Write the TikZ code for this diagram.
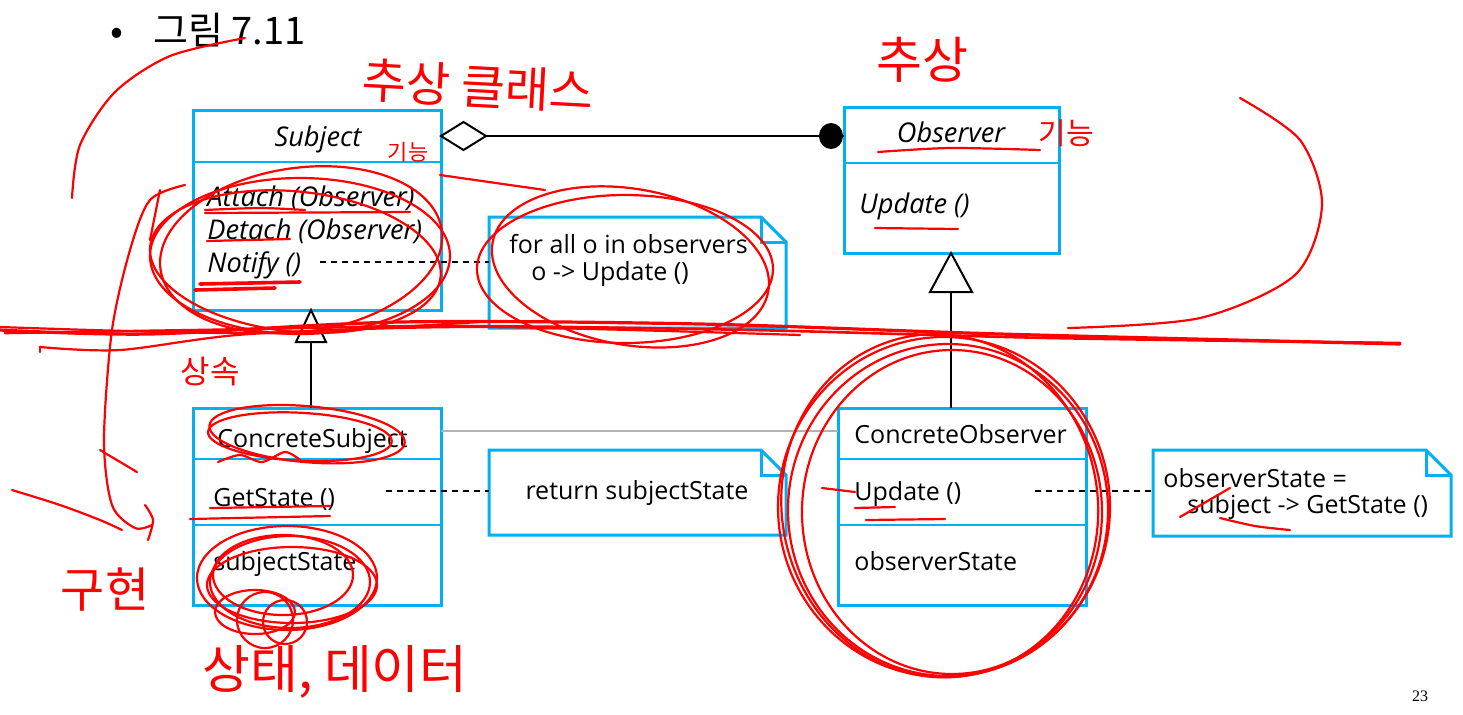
\documentclass[tikz,border=0pt]{standalone}
\usepackage{fontspec}
\setmainfont{Open Sans}
\newfontfamily\kr{Noto Sans CJK KR}
\newfontfamily\pagenum{Liberation Serif}
\definecolor{umlblue}{HTML}{00B0F0}
\definecolor{pen}{HTML}{FF0000}
\tikzset{
  clsbox/.style={draw=umlblue, line width=1.5pt, anchor=north west, inner sep=0pt, outer sep=0pt},
  notebox/.style={anchor=north west, inner sep=0pt, outer sep=0pt},
  divider/.style={draw=umlblue, line width=0.8pt},
  txt/.style={font=\fontsize{12.5}{15}\selectfont, inner sep=0pt, anchor=base west},
  itxt/.style={txt, font=\fontsize{13.6}{15}\selectfont\itshape},
  umlline/.style={draw=black, line width=1pt},
  dashline/.style={draw=black, line width=1pt, dash pattern=on 3pt off 2.5pt},
  redpen/.style={draw=pen, line width=1.1pt, line cap=round, line join=round},
  redtxt/.style={text=pen, inner sep=0pt, font=\kr},
}
\begin{document}
\begin{tikzpicture}[x=0.5pt,y=-0.5pt]
\useasboundingbox (0,0) rectangle (1463,714);
\fill[white] (0,0) rectangle (1463,714);

% header
\node[inner sep=0pt, anchor=base west, font=\kr\fontsize{19}{21}\selectfont] (bul) at (110,44) {•};
\node[inner sep=0pt, anchor=base west, font=\kr\fontsize{19}{21}\selectfont] (title) at (153,44) {그림 7.11};
\node[inner sep=0pt, anchor=base, font=\pagenum\fontsize{8}{9}\selectfont] (pg) at (1420,701) {23};

% class boxes
\node[clsbox, minimum width=124pt, minimum height=100pt] (subj) at (193,110) {};
\node[clsbox, minimum width=107.5pt, minimum height=73pt] (obs) at (844,107) {};
\node[clsbox, minimum width=124pt, minimum height=98.5pt] (cs) at (193,408) {};
\node[clsbox, minimum width=124pt, minimum height=98.5pt] (co) at (838,408) {};

\draw[divider] (193,162) -- (441,162);
\draw[divider] (844,163) -- (1059,163);
\draw[divider] (193,459) -- (441,459);
\draw[divider] (193,525) -- (441,525);
\draw[divider] (838,459) -- (1086,459);
\draw[divider] (838,525) -- (1086,525);

% class texts
\node[itxt, anchor=base] (subjT) at (318,146) {Subject};
\node[itxt] (attach) at (207,206) {Attach (Observer)};
\node[itxt] (detach) at (207,239) {Detach (Observer)};
\node[itxt] (notify) at (207,272) {Notify ()};
\node[itxt, anchor=base] (obsT) at (951,142) {Observer};
\node[itxt] (upd) at (859,213) {Update ()};
\node[txt] (csT) at (217,447) {ConcreteSubject};
\node[txt] (gets) at (213,506) {GetState ()};
\node[txt] (sstate) at (213,570) {subjectState};
\node[txt] (coT) at (854,443) {ConcreteObserver};
\node[txt] (cupd) at (854,500) {Update ()};
\node[txt] (ostate) at (854,570) {observerState};

% notes
\node[notebox, minimum width=148.5pt, minimum height=55.5pt] (n1) at (489,217) {};
\node[notebox, minimum width=148.5pt, minimum height=42.5pt] (n2) at (489,450) {};
\node[notebox, minimum width=149pt, minimum height=43pt] (n3) at (1153,450) {};
\foreach \n in {n1,n2,n3}{
  \draw[umlblue, line width=1.5pt, line join=miter]
    (\n.north west) -- ([xshift=-12.5pt]\n.north east) -- ([yshift=-12.5pt]\n.north east)
    -- (\n.south east) -- (\n.south west) -- cycle;
  \draw[umlblue, line width=1.5pt]
    ([xshift=-12.5pt]\n.north east) |- ([yshift=-12.5pt]\n.north east);
}
\node[txt] (n1a) at (509,253) {for all o in observers};
\node[txt] (n1b) at (531,280) {o -> Update ()};
\node[txt, anchor=base] (n2a) at (637,499) {return subjectState};
\node[txt] (n3a) at (1163,487) {observerState =};
\node[txt] (n3b) at (1187,513) {subject -> GetState ()};

% association
\coordinate (dA) at (441,136);
\coordinate (dB) at (486,136);
\draw[umlline, fill=white] (dA) -- (463.5,122) -- (dB) -- (463.5,150) -- cycle;
\draw[umlline] (dB) -- (obs.west |- dB);
\fill[black] (831,136) ellipse [x radius=12, y radius=13];

% generalisation
\coordinate (g1) at (311,342);
\coordinate (g2) at (951,292);
\draw[umlline] (cs.north -| g1) -- (g1);
\draw[umlline, fill=white, line join=miter] (311,310) -- (326,342) -- (296,342) -- cycle;
\draw[umlline] (co.north -| g2) -- (g2);
\draw[umlline, fill=white, line join=miter] (951,253) -- (972,292) -- (930,292) -- cycle;

% grey link
\coordinate (gy) at (0,431);
\draw[gray!60, line width=0.8pt] (cs.east |- gy) -- (co.west |- gy);

% dashed note links
\coordinate (d1) at (320,262);
\coordinate (d2) at (386,491);
\coordinate (d3) at (1035,491);
\draw[dashline] (d1) -- (n1.west |- d1);
\draw[dashline] (d2) -- (n2.west |- d2);
\draw[dashline] (d3) -- (n3.west |- d3);

% ---------- red handwriting ----------
\node[redtxt, font=\kr\fontsize{24}{26}\selectfont, rotate=-3] (h1) at (478,86) {추상 클래스};
\node[redtxt, font=\kr\fontsize{25}{27}\selectfont] (h2) at (922,60) {추상};
\node[redtxt, font=\kr\fontsize{11}{12}\selectfont] (h3) at (408,152) {기능};
\node[redtxt, font=\kr\fontsize{15}{16}\selectfont] (h4) at (1066,133) {기능};
\node[redtxt, font=\kr\fontsize{16}{18}\selectfont] (h5) at (210,372) {상속};
\node[redtxt, font=\kr\fontsize{24}{26}\selectfont] (h6) at (105,590) {구현};
\node[redtxt, font=\kr\fontsize{26}{28}\selectfont] (h7) at (335,672) {상태, 데이터};

% long curves
\draw[redpen] plot[smooth] coordinates {(245,38) (170,56) (115,92) (80,145) (72,198)};
\draw[redpen] plot[smooth] coordinates {(1240,98) (1300,140) (1322,205) (1295,275) (1200,318) (1068,328)};
\draw[redpen] (440,175) -- (545,190);
% horizontal strokes
\draw[redpen, line width=1.6pt] plot[smooth] coordinates {(0,330) (150,334) (400,322) (700,324) (1000,334) (1400,344)};
\draw[redpen, line width=1.3pt] plot[smooth] coordinates {(5,333) (200,330) (450,326) (750,330) (1050,338) (1400,343)};
\draw[redpen] plot[smooth] coordinates {(40,347) (120,350) (250,334) (480,327) (800,335)};
\draw[redpen] plot[smooth] coordinates {(0,327) (250,333) (480,322)};

% ellipses
\draw[redpen] (300,256) ellipse [x radius=150, y radius=78];
\draw[redpen, rotate around={8:(300,256)}] (302,250) ellipse [x radius=142, y radius=82];
\draw[redpen, rotate around={-6:(300,256)}] (296,262) ellipse [x radius=146, y radius=70];
\draw[redpen] (625,269) ellipse [x radius=148, y radius=74];
\draw[redpen, rotate around={-10:(625,269)}] (630,266) ellipse [x radius=140, y radius=78];
\draw[redpen] (944,507) ellipse [x radius=166, y radius=170];
\draw[redpen] (948,510) ellipse [x radius=160, y radius=166];
\draw[redpen, rotate around={10:(944,507)}] (940,505) ellipse [x radius=158, y radius=172];
\draw[redpen] (952,512) ellipse [x radius=150, y radius=162];
\draw[redpen, rotate around={-5:(305,435)}] (307,434) ellipse [x radius=98, y radius=28];
\draw[redpen, rotate around={-3:(305,435)}] (300,437) ellipse [x radius=92, y radius=24];
\draw[redpen] (287,578) ellipse [x radius=90, y radius=52];
\draw[redpen] (290,582) ellipse [x radius=80, y radius=46];
\draw[redpen] (283,575) ellipse [x radius=70, y radius=40];
\draw[redpen] (292,585) ellipse [x radius=85, y radius=38];
\draw[redpen] (265,620) circle [radius=28];
\draw[redpen] (285,622) circle [radius=22];
\draw[redpen] (255,612) ellipse [x radius=40, y radius=22];

% left hooks
\draw[redpen] plot[smooth] coordinates {(185,185) (150,200) (130,250) (112,330) (104,440) (112,505) (135,528) (152,525)};
\draw[redpen] plot[smooth] coordinates {(145,505) (153,520) (148,540)};
\draw[redpen] plot[smooth] coordinates {(12,490) (60,505) (100,520) (122,530)};
\draw[redpen] (100,450) -- (137,472);
\draw[redpen] (160,190) -- (150,240);
\draw[redpen] (40,347) -- (40,352);

% underlines
\draw[redpen] plot[smooth] coordinates {(205,210) (260,208) (305,210)};
\draw[redpen] (205,213) -- (410,212);
\draw[redpen] (207,241) -- (290,239);
\draw[redpen, line width=1.8pt] (200,284) -- (300,282);
\draw[redpen, line width=1.8pt] (195,290) -- (275,288);
\draw[redpen] plot[smooth] coordinates {(878,152) (950,148) (1040,150)};
\draw[redpen] (875,228) -- (958,229);
\draw[redpen] plot[smooth] coordinates {(218,462) (240,455) (262,462) (285,452) (300,460)};
\draw[redpen] (210,508) -- (330,506);
\draw[redpen] (190,519) -- (330,516);
\draw[redpen] (822,488) -- (855,492);
\draw[redpen] (855,508) -- (895,507);
\draw[redpen] (866,520) -- (945,519);
\draw[redpen] plot[smooth] coordinates {(1220,518) (1255,526) (1290,530)};
\draw[redpen] (1180,517) -- (1230,488);
\end{tikzpicture}
\end{document}
